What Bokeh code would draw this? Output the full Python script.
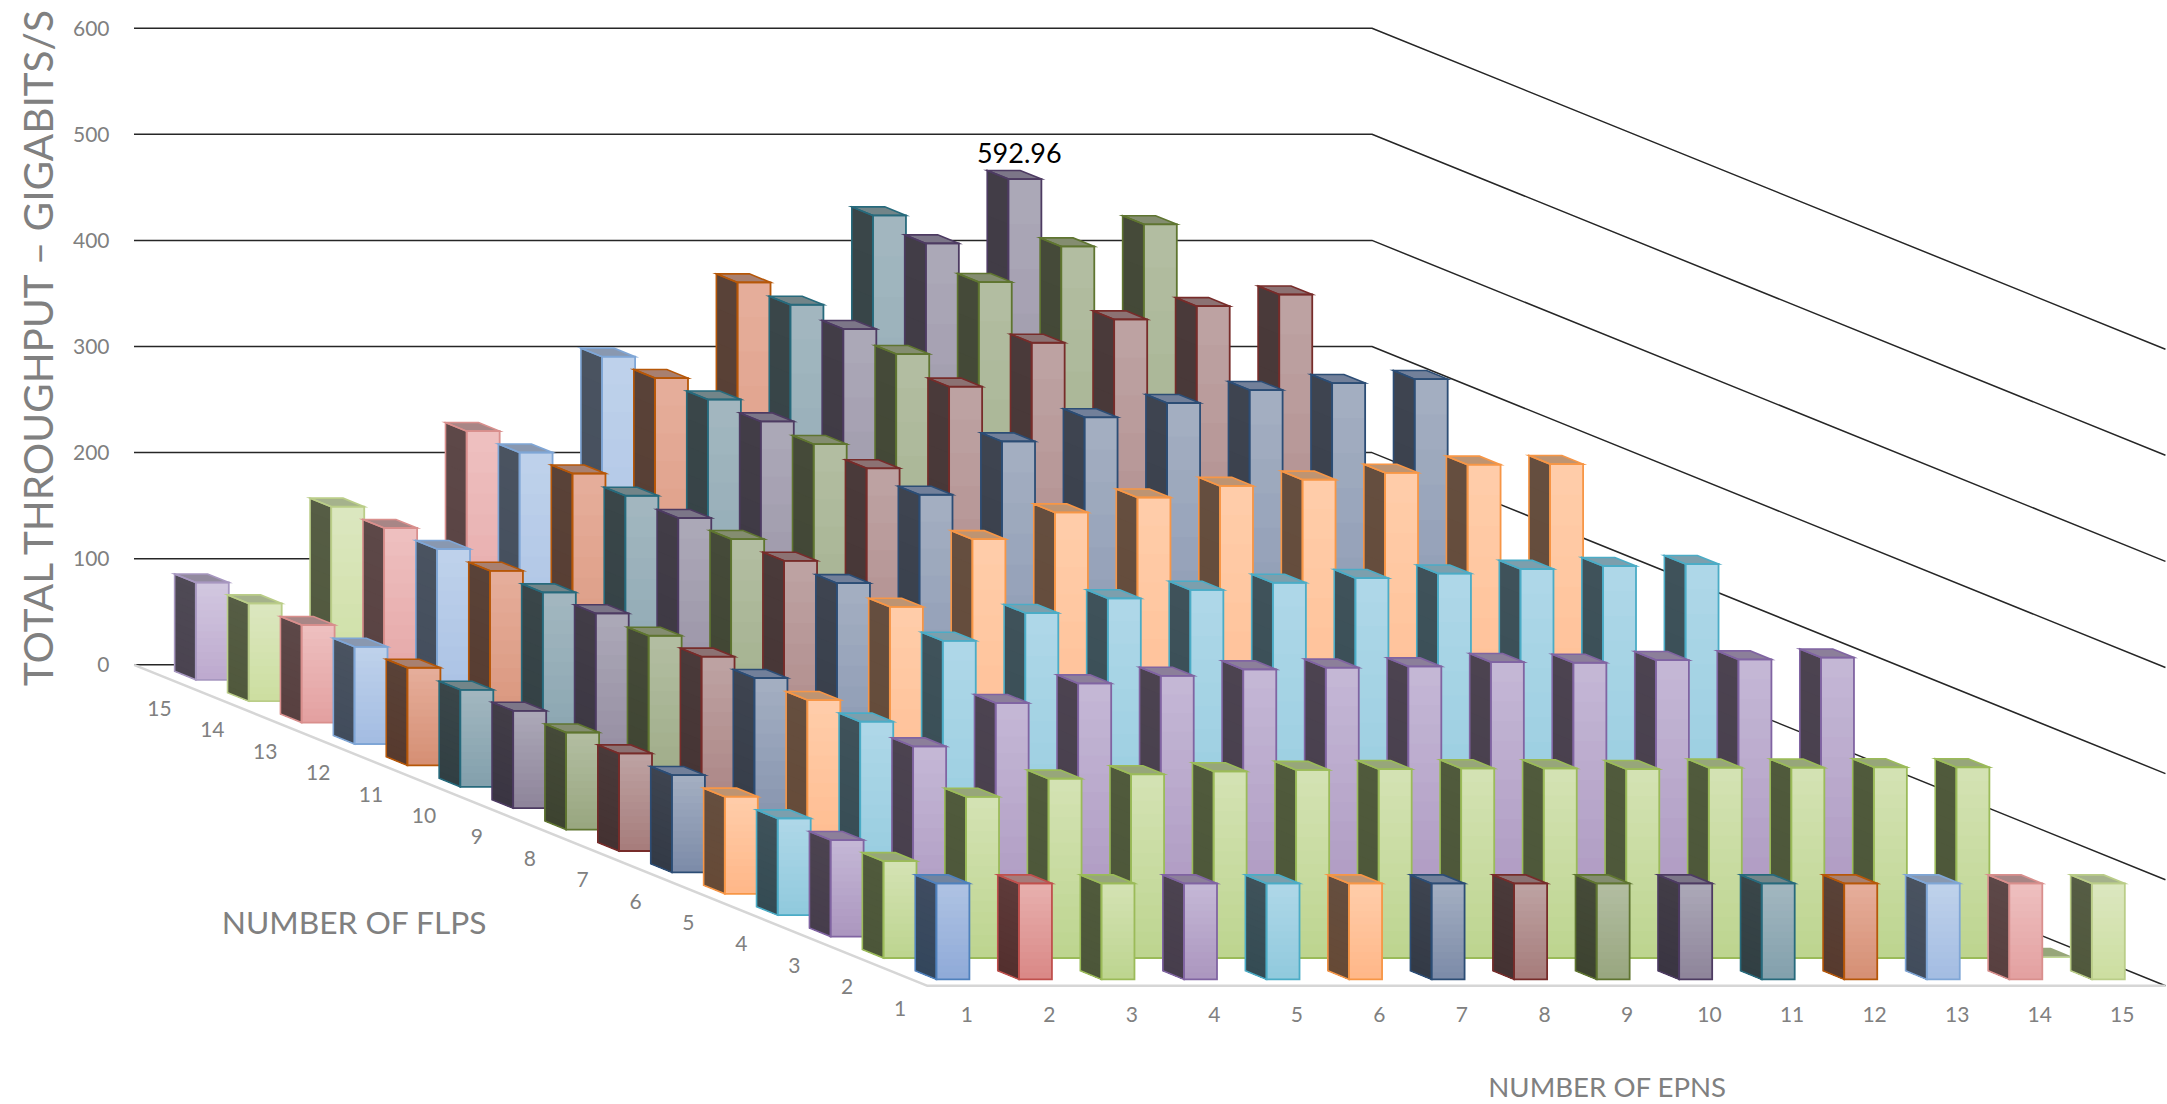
from bokeh.core.properties import value
from bokeh.embed import file_html
from bokeh.models import ColumnDataSource, FixedTicker, Label, LinearAxis, Range1d, Title
from bokeh.plotting import figure
from bokeh.resources import INLINE

# Throughput in Gb/s; each list is one FLP count, indexed by EPN count.
flp_1 = [90.4] * 15
flp_2 = [91.2, 151.9, 169, 173.1, 175.9, 177.2, 178, 178.7, 178.7, 178, 179.4, 179.4, 179.7, 179.7, 1.5]
flp_3 = [91, 179.2, 220.1, 238.6, 245.8, 251.8, 253.4, 254.6, 258.7, 258.1, 260.6, 261.2, 263]
flp_4 = [91.2, 182.4, 258.6, 284.8, 298.6, 306.6, 313.3, 317.7, 322, 326.3, 329.1, 331]
flp_5 = [91.5, 182.6, 270.5, 334.2, 359.4, 373.5, 384.4, 390.3, 396.8, 404.4, 405]
flp_6 = [91.7, 183.2, 272.6, 355.9, 406.2, 428.9, 442.4, 454.6, 461.2, 464.9]
flp_7 = [91.9, 183.1, 273.5, 360.7, 437.6, 479, 501, 513.5, 524.5]
flp_8 = [91.5, 182.7, 273.8, 363.3, 448.2, 516, 549.6, 570.5]
flp_9 = [91.8, 183.6, 273.5, 364.5, 451.6, 532.3, 592.96]
flp_10 = [91.4, 183.2, 274.3, 365, 454.3, 538.5]
flp_11 = [92, 183.4, 275.1, 365, 455.2]
flp_12 = [91.6, 183.7, 274.7, 365]
flp_13 = [91.9, 183.4, 274.7]
flp_14 = [92.1, 183.3]
flp_15 = [91.7]
rows = [flp_1, flp_2, flp_3, flp_4, flp_5, flp_6, flp_7, flp_8,
        flp_9, flp_10, flp_11, flp_12, flp_13, flp_14, flp_15]

value_ticks = [0, 100, 200, 300, 400, 500, 600]
flp_labels = [str(i) for i in range(1, 16)]
epn_labels = [str(i) for i in range(1, 16)]
peak_label = "592.96"

# outline, front top, front bottom, side top, side bottom, cap
blue = ("#4F81BD", "#AFC3E3", "#8FAAD8", "#3F4C60", "#33465C", "#72849F")
red = ("#C0504D", "#E8B0AE", "#D98886", "#5E3B3A", "#532F2E", "#A57C7B")
green = ("#9BBB59", "#D4E2B4", "#BDD58F", "#505A3C", "#4C5639", "#97A67A")
purple = ("#8064A2", "#C5B8D6", "#AB96BF", "#4C4350", "#463D4C", "#8C7F9A")
cyan = ("#4BACC6", "#AFD8E8", "#90C9DD", "#3F525A", "#344B53", "#7C9FAD")
orange = ("#F79646", "#FFCDAA", "#FFB788", "#654E3F", "#664A36", "#BE9472")
navy = ("#2C4D75", "#A4AFC2", "#7C8BA8", "#3E4450", "#333A46", "#72809A")
maroon = ("#772C2A", "#BEA3A3", "#A67C7B", "#4A3A3A", "#443232", "#8C7273")
olive = ("#5F7530", "#B3BEA2", "#98A67F", "#454A39", "#3D4330", "#848D70")
plum = ("#4D3B62", "#ACA9B8", "#8E849A", "#423D47", "#3A3542", "#7C7688")
teal = ("#276A7C", "#A3B7C0", "#82A0AC", "#3A4649", "#313F43", "#728589")
rust = ("#B65708", "#E6AE9B", "#D58F74", "#594238", "#573A2E", "#A88070")
sky = ("#7FA6D6", "#BFD2EB", "#A3BCE2", "#4A5360", "#414C5C", "#8998B0")
rose = ("#D98F8D", "#EEC0C0", "#E3A0A0", "#5D4848", "#584040", "#A88686")
lime = ("#BACD88", "#DCE7C0", "#CCDEA0", "#565D45", "#50583C", "#A5B28C")
lilac = ("#A797C0", "#D2C8E0", "#BDA9CE", "#4F4A55", "#4A4350", "#928A9E")

# The first FLP row varies its colour by EPN; later rows take one colour each.
first_row_colors = [blue, red, green, purple, cyan, orange, navy, maroon,
                    olive, plum, teal, rust, sky, rose, lime]
row_colors = [None, green, purple, cyan, orange, navy, maroon, olive,
              plum, teal, rust, sky, rose, lime, lilac]

WIDTH, HEIGHT = 2167, 1104
FRAME_LEFT = 133
SLOT_W = 82.53        # pixels per EPN slot
SHEAR_X = 52.9 / SLOT_W
PX_PER_UNIT = 1.061   # pixels per Gb/s
RISE = 21.4 / PX_PER_UNIT
ORIGIN_X, FLOOR_BACK_Y = 927, 664.3
GAP = 0.3
STRIPS = 14


def sx(e, z):
    """Horizontal position of a floor point: e EPN slots across, z FLP slots back."""
    return e - z * SHEAR_X


def sy(v, z):
    """Height of a point in Gb/s, raised by how far back on the floor it sits."""
    return v - (15 - z) * RISE


def mix(a, b, t):
    ca = [int(a[i:i + 2], 16) for i in (1, 3, 5)]
    cb = [int(b[i:i + 2], 16) for i in (1, 3, 5)]
    return "#%02x%02x%02x" % tuple(round(p + (q - p) * t) for p, q in zip(ca, cb))


faces = dict(xs=[], ys=[], fill=[], fill_a=[], line=[], line_a=[], lw=[])


def add_face(xs, ys, fill, fill_a, line, line_a, lw):
    faces["xs"].append(xs)
    faces["ys"].append(ys)
    faces["fill"].append(fill)
    faces["fill_a"].append(fill_a)
    faces["line"].append(line)
    faces["line_a"].append(line_a)
    faces["lw"].append(lw)


def add_bar(flp, epn, v, col):
    outline, f_top, f_bot, s_top, s_bot, cap = col
    e0, e1 = epn - 1 + GAP, epn - GAP
    z0, z1 = flp - 1 + GAP, flp - GAP
    # Shading: each layer reaches down to the floor and covers the one before it.
    for i in range(STRIPS):
        hi = v * (1 - i / STRIPS)
        c = mix(s_top, s_bot, (i + 0.5) / STRIPS)
        add_face([sx(e0, z0), sx(e0, z1), sx(e0, z1), sx(e0, z0)],
                 [sy(hi, z0), sy(hi, z1), sy(0, z1), sy(0, z0)], c, 1.0, c, 0.0, 0.5)
    for i in range(STRIPS):
        hi = v * (1 - i / STRIPS)
        c = mix(f_top, f_bot, (i + 0.5) / STRIPS)
        add_face([sx(e0, z0), sx(e1, z0), sx(e1, z0), sx(e0, z0)],
                 [sy(hi, z0), sy(hi, z0), sy(0, z0), sy(0, z0)], c, 1.0, c, 0.0, 0.5)
    top_x = [sx(e0, z0), sx(e1, z0), sx(e1, z1), sx(e0, z1)]
    top_y = [sy(v, z0), sy(v, z0), sy(v, z1), sy(v, z1)]
    if v > 5:
        add_face(top_x, top_y, cap, 1.0, outline, 1.0, 1.6)
        add_face([sx(e0, z0), sx(e0, z1), sx(e0, z1), sx(e0, z0)],
                 [sy(v, z0), sy(v, z1), sy(0, z1), sy(0, z0)], cap, 0.0, outline, 1.0, 1.6)
        add_face([sx(e0, z0), sx(e1, z0), sx(e1, z0), sx(e0, z0)],
                 [sy(v, z0), sy(v, z0), sy(0, z0), sy(0, z0)], cap, 0.0, outline, 1.0, 1.8)
    else:
        add_face(top_x, top_y, cap, 1.0, cap, 0.0, 0.5)


for flp in range(15, 0, -1):
    for epn, v in enumerate(rows[flp - 1], start=1):
        col = first_row_colors[epn - 1] if flp == 1 else row_colors[flp - 1]
        add_bar(flp, epn, v, col)

x_range = Range1d((FRAME_LEFT - ORIGIN_X) / SLOT_W, (WIDTH - ORIGIN_X) / SLOT_W)
y_range = Range1d((FLOOR_BACK_Y - HEIGHT) / PX_PER_UNIT, FLOOR_BACK_Y / PX_PER_UNIT)

p = figure(width=WIDTH, height=HEIGHT, output_backend="svg", toolbar_location=None,
           x_range=x_range, y_range=y_range, x_axis_type=None, y_axis_type=None,
           min_border=0, min_border_left=FRAME_LEFT, min_border_right=0,
           background_fill_color="white", border_fill_color="white", outline_line_color=None)
p.grid.visible = False

axis = LinearAxis(ticker=FixedTicker(ticks=value_ticks))
axis.axis_line_color = None
axis.major_tick_line_color = None
axis.minor_tick_line_color = None
axis.major_label_standoff = 18
axis.major_label_text_font = "Lato"
axis.major_label_text_font_size = "21px"
axis.major_label_text_color = "#808080"
p.add_layout(axis, "left")

# Value-axis title, set against the top of the frame.
p.add_layout(Title(text="TOTAL THROUGHPUT – GIGABITS/S", align="right", offset=6, standoff=16,
                   text_font="Lato", text_font_size="40.5px", text_font_style="normal",
                   text_color="#808080"), "left")

# Gridlines run along the back wall, then down the right-hand wall.
p.multi_line(
    xs=[[sx(0, 15), sx(15, 15), sx(15, 0)] for _ in value_ticks],
    ys=[[sy(v, 15), sy(v, 15), sy(v, 0)] for v in value_ticks],
    line_color="#262626", line_width=1.5)

# Front and left edges of the floor.
p.line([sx(0, 15), sx(0, 0), sx(15, 0)], [sy(0, 15), sy(0, 0), sy(0, 0)],
       line_color="#d6d6d6", line_width=2.5)

p.patches("xs", "ys", source=ColumnDataSource(faces), fill_color="fill", fill_alpha="fill_a",
          line_color="line", line_alpha="line_a", line_width="lw", line_join="miter")

# Category labels along the two floor edges.
p.text([sx(0, i + 0.5) for i in range(15)], [sy(0, i + 0.5) for i in range(15)], text=flp_labels,
       x_offset=-1, y_offset=33, text_align="center", text_baseline="middle",
       text_font=value("Lato"), text_font_size="21px", text_color="#808080")
p.text([sx(i + 0.5, 0) for i in range(15)], [sy(0, 0)] * 15, text=epn_labels,
       x_offset=-2, y_offset=29, text_align="center", text_baseline="middle",
       text_font=value("Lato"), text_font_size="21px", text_color="#808080")

# Value label above the tallest bar.
peak_flp, peak_epn = 9, 7
peak_v = rows[peak_flp - 1][peak_epn - 1]
p.text([sx(peak_epn - 0.5, peak_flp - 0.5)], [sy(peak_v, peak_flp - 0.5)], text=[peak_label],
       x_offset=5, y_offset=-22, text_align="center", text_baseline="middle",
       text_font=value("Lato"), text_font_size="27px", text_color="#000000")


def px_x(px):
    return (px - ORIGIN_X) / SLOT_W


def px_y(py):
    return (FLOOR_BACK_Y - py) / PX_PER_UNIT


p.add_layout(Label(x=px_x(354), y=px_y(921), text="NUMBER OF FLPS", text_align="center",
                   text_baseline="middle", text_font="Lato", text_font_size="31.7px", text_color="#808080"))
p.add_layout(Label(x=px_x(1607), y=px_y(1086), text="NUMBER OF EPNS", text_align="center",
                   text_baseline="middle", text_font="Lato", text_font_size="27.6px", text_color="#808080"))

open("out.html", "w").write(file_html(p, INLINE))
